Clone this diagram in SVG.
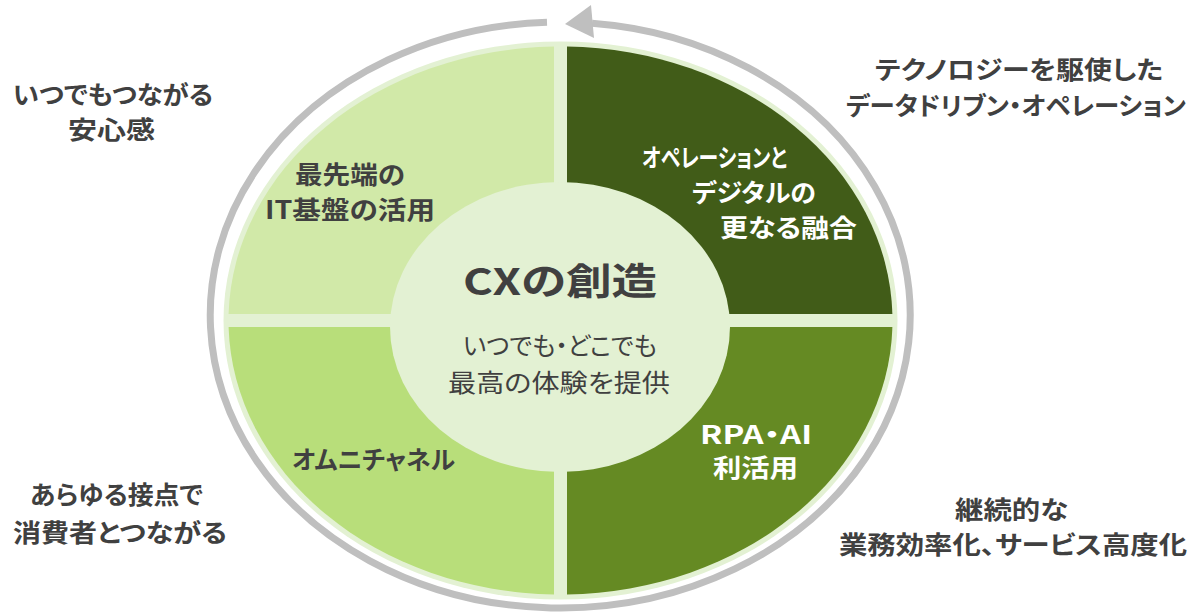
<svg xmlns="http://www.w3.org/2000/svg" width="1200" height="615" viewBox="0 0 1200 615">
<style>
text{font-family:"Noto Sans CJK JP","Noto Sans",sans-serif;font-feature-settings:"palt" 1;}
.out{font-size:25px;font-weight:bold;fill:#404040;text-anchor:middle;}
.q{font-size:25px;font-weight:bold;}
.dk{fill:#404040;}
.wt{fill:#ffffff;}
.c{text-anchor:middle;}
.sub{font-size:25px;font-weight:normal;fill:#404040;text-anchor:middle;}
</style>
<rect width="1200" height="615" fill="#ffffff"/>
<g id="cycle-arrow">
<path d="M592,23.2 A350 293 0 1 1 547,22.2" fill="none" stroke="#bfbfbf" stroke-width="7"/>
<polygon points="565,24 591,5 594,38" fill="#bfbfbf"/>
</g>
<g id="wheel-base">
<ellipse cx="560.5" cy="320.5" rx="337" ry="279" fill="#e3f1d3"/>
</g>
<g id="q-it">
<path d="M554,314 L554,46.6 A332 274 0 0 0 228.6,314 Z" fill="#d1e9a8"/>
<text class="q dk c" x="350" y="184" textLength="110" lengthAdjust="spacingAndGlyphs">最先端の</text>
<text class="q dk c" x="350" y="219" textLength="170" lengthAdjust="spacingAndGlyphs">IT基盤の活用</text>
</g>
<g id="q-ops">
<path d="M567,314 L567,46.6 A332 274 0 0 1 892.4,314 Z" fill="#415c18"/>
<text class="q wt" x="642" y="167" textLength="145" lengthAdjust="spacingAndGlyphs">オペレーションと</text>
<text class="q wt" x="692" y="202" textLength="124" lengthAdjust="spacingAndGlyphs">デジタルの</text>
<text class="q wt" x="720" y="237" textLength="137" lengthAdjust="spacingAndGlyphs">更なる融合</text>
</g>
<g id="q-omni">
<path d="M554,327 L228.6,327 A332 274 0 0 0 554,594.4 Z" fill="#b8de7a"/>
<text class="q dk" x="292" y="469" textLength="163" lengthAdjust="spacingAndGlyphs">オムニチャネル</text>
</g>
<g id="q-rpa">
<path d="M567,327 L567,594.4 A332 274 0 0 0 892.4,327 Z" fill="#658a23"/>
<text class="q wt c" x="756" y="444" font-size="28" textLength="112" lengthAdjust="spacingAndGlyphs">RPA・AI</text>
<text class="q wt c" x="755.5" y="477" textLength="85" lengthAdjust="spacingAndGlyphs">利活用</text>
</g>
<g id="center">
<ellipse cx="560" cy="327" rx="170" ry="145" fill="#e3f1d3"/>
<text class="c" x="560" y="295" font-size="37" font-weight="bold" fill="#404040" textLength="194" lengthAdjust="spacingAndGlyphs">CXの創造</text>
<text class="sub" x="560" y="355" textLength="194" lengthAdjust="spacingAndGlyphs">いつでも・どこでも</text>
<text class="sub" x="559" y="392" textLength="222" lengthAdjust="spacingAndGlyphs">最高の体験を提供</text>
</g>
<g id="label-tl">
<text class="out" x="113" y="104" textLength="200" lengthAdjust="spacingAndGlyphs">いつでもつながる</text>
<text class="out" x="111.5" y="139" textLength="87" lengthAdjust="spacingAndGlyphs">安心感</text>
</g>
<g id="label-tr">
<text class="out" x="1019" y="79" textLength="288" lengthAdjust="spacingAndGlyphs">テクノロジーを駆使した</text>
<text class="out" x="1016" y="115" textLength="340" lengthAdjust="spacingAndGlyphs">データドリブン・オペレーション</text>
</g>
<g id="label-bl">
<text class="out" x="116.5" y="504" textLength="173" lengthAdjust="spacingAndGlyphs">あらゆる接点で</text>
<text class="out" x="120" y="542" textLength="214" lengthAdjust="spacingAndGlyphs">消費者とつながる</text>
</g>
<g id="label-br">
<text class="out" x="1011.5" y="519" textLength="113" lengthAdjust="spacingAndGlyphs">継続的な</text>
<text class="out" x="1013" y="554" textLength="348" lengthAdjust="spacingAndGlyphs">業務効率化、サービス高度化</text>
</g>
<g id="connectors"></g>
</svg>
